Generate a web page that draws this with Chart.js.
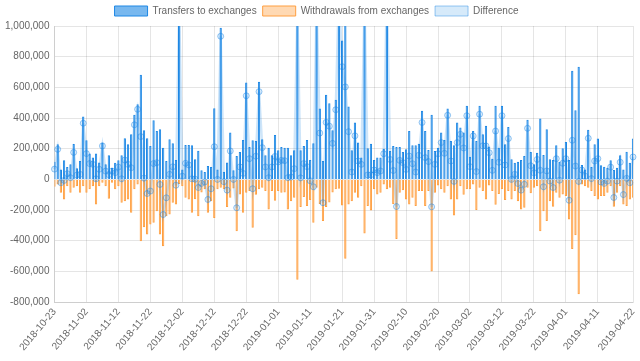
<!DOCTYPE html>
<html>
<head>
<meta charset="utf-8">
<script src="https://cdn.jsdelivr.net/npm/chart.js@4"></script>
<style>
  html, body { margin: 0; padding: 0; background: #fff; }
  #wrap { width: 640px; height: 361px; position: relative; }
</style>
</head>
<body>
<div id="wrap"><canvas id="grafico"></canvas></div>
<script>
// --- DADOS ---
const startDate = '2018-10-23';

// transfers into exchanges, one value per day
const transfers = [
  115000, 229000, 65000, 124000, 81000, 98000, 231000, 72000, 120000, 410000,
  255000, 168000, 142000, 168000, 110000, 240000, 98000, 157000, 76000, 109000,
  124000, 157000, 268000, 229000, 294000, 421000, 490000, 682000, 320000, 268000,
  218000, 386000, 316000, 327000, 207000, 120000, 262000, 235000, 126000, 1150000,
  65000, 225000, 225000, 222000, 131000, 187000, 59000, 48000, 87000, 81000,
  464000, 65000, 988000, 50000, 110000, 305000, 60000, 153000, 179000, 257000,
  632000, 211000, 255000, 251000, 637000, 262000, 157000, 207000, 157000, 290000,
  190000, 211000, 207000, 207000, 157000, 190000, 1750000, 190000, 218000, 257000,
  126000, 235000, 1200000, 462000, 120000, 552000, 497000, 320000, 519000, 1300000,
  905000, 1120000, 475000, 190000, 371000, 240000, 142000, 1500000, 203000, 233000,
  126000, 142000, 142000, 200000, 1300000, 185000, 218000, 211000, 211000, 179000,
  196000, 316000, 222000, 222000, 233000, 447000, 316000, 192000, 421000, 185000,
  207000, 305000, 257000, 462000, 251000, 222000, 371000, 338000, 305000, 480000,
  148000, 316000, 251000, 480000, 294000, 349000, 214000, 135000, 480000, 207000,
  480000, 229000, 342000, 131000, 109000, 115000, 126000, 153000, 388000, 179000,
  98000, 174000, 397000, 159000, 327000, 131000, 126000, 222000, 115000, 203000,
  244000, 126000, 708000, 451000, 735000, 94000, 65000, 323000, 81000, 229000,
  266000, 92000, 83000, 76000, 124000, 61000, 76000, 157000, 65000, 181000,
  109000, 266000
];

// withdrawals from exchanges (negative), one value per day
const withdrawals = [
  -48000, -33000, -87000, -131000, -44000, -87000, -55000, -44000, -87000, -44000,
  -87000, -65000, -44000, -164000, -44000, -22000, -44000, -126000, -22000, -65000,
  -44000, -153000, -142000, -131000, -218000, -65000, -33000, -403000, -312000, -360000,
  -294000, -283000, -207000, -360000, -436000, -240000, -229000, -153000, -164000, -30000,
  -44000, -120000, -131000, -218000, -130000, -240000, -85000, -65000, -218000, -142000,
  -251000, -65000, -55000, -65000, -180000, -120000, -60000, -338000, -98000, -218000,
  -87000, -76000, -316000, -100000, -65000, -55000, -76000, -196000, -76000, -140000,
  -76000, -87000, -85000, -196000, -142000, -120000, -654000, -180000, -115000, -174000,
  -135000, -283000, -55000, -160000, -272000, -180000, -150000, -85000, -65000, -61000,
  -170000, -517000, -164000, -142000, -87000, -120000, -44000, -353000, -174000, -203000,
  -65000, -98000, -87000, -33000, -65000, -55000, -160000, -388000, -87000, -70000,
  -131000, -164000, -120000, -174000, -76000, -76000, -174000, -76000, -600000, -87000,
  -40000, -65000, -87000, -44000, -131000, -235000, -131000, -44000, -100000, -65000,
  -65000, -33000, -200000, -55000, -75000, -131000, -40000, -76000, -165000, -95000,
  -65000, -135000, -76000, -131000, -76000, -142000, -196000, -185000, -55000, -90000,
  -55000, -44000, -338000, -207000, -272000, -142000, -179000, -87000, -120000, -98000,
  -109000, -262000, -453000, -364000, -748000, -33000, -44000, -55000, -76000, -109000,
  -131000, -109000, -109000, -87000, -44000, -179000, -87000, -45000, -164000, -174000,
  -131000, -120000
];

const yMin = -800000;
const yMax = 1000000;
const yStep = 200000;
const labelEvery = 10;

// --- CATEGORIAS (um dia por barra) ---
function gerarDatas(inicio, n) {
  const out = [];
  const d = new Date(inicio + 'T00:00:00Z');
  for (let i = 0; i < n; i++) {
    out.push(d.toISOString().slice(0, 10));
    d.setUTCDate(d.getUTCDate() + 1);
  }
  return out;
}
const days = gerarDatas(startDate, transfers.length);

// difference = transfers + withdrawals (withdrawals are negative)
const difference = transfers.map((t, i) => t + withdrawals[i]);

// cores: barras finas quase sólidas, caixas da legenda mais claras
const azul = 'rgb(30,136,229)';
const laranja = 'rgb(255,159,64)';
const legendaFundo = ['rgba(30,136,229,0.6)', 'rgba(255,159,64,0.4)', 'rgba(30,136,229,0.18)'];
const legendaBorda = [azul, laranja, 'rgba(30,136,229,0.45)'];

Chart.defaults.font.size = 10;
Chart.defaults.color = '#666';

new Chart(document.getElementById('grafico'), {
  type: 'bar',
  data: {
    labels: days,
    datasets: [
      {
        label: 'Transfers to exchanges',
        data: transfers,
        backgroundColor: 'rgba(30,136,229,0.9)',
        borderColor: azul,
        borderWidth: 1,
        order: 1
      },
      {
        label: 'Withdrawals from exchanges',
        data: withdrawals,
        backgroundColor: 'rgba(255,159,64,0.85)',
        borderColor: laranja,
        borderWidth: 1,
        order: 1
      },
      {
        type: 'line',
        label: 'Difference',
        data: difference,
        backgroundColor: 'rgba(30,136,229,0.18)',
        borderColor: 'rgba(30,136,229,0.22)',
        borderWidth: 2.5,
        pointRadius: 3,
        pointBorderWidth: 1,
        pointBorderColor: 'rgba(30,136,229,0.45)',
        pointBackgroundColor: 'rgba(30,136,229,0.15)',
        fill: false,
        tension: 0,
        order: 0
      }
    ]
  },
  options: {
    responsive: true,
    maintainAspectRatio: false,
    animation: false,
    layout: { padding: { right: 7, bottom: 4 } },
    plugins: {
      legend: {
        labels: {
          padding: 6,
          boxWidth: 33,
          boxHeight: 10,
          sort: (a, b) => a.datasetIndex - b.datasetIndex,
          generateLabels: chart => {
            const itens = Chart.defaults.plugins.legend.labels.generateLabels(chart);
            itens.forEach(it => {
              it.fillStyle = legendaFundo[it.datasetIndex];
              it.strokeStyle = legendaBorda[it.datasetIndex];
              it.lineWidth = 1;
            });
            return itens;
          }
        }
      },
      tooltip: { enabled: false }
    },
    scales: {
      x: {
        stacked: true,
        offset: false,
        grid: { offset: false, drawTicks: false },
        afterBuildTicks: axis => {
          const last = days.length - 1;
          axis.ticks = axis.ticks.filter(t =>
            (t.value % labelEvery === 0 && last - t.value >= labelEvery) || t.value === last);
        },
        // os rótulos girados terminam no tick, não precisam de espaço extra à direita
        afterFit: axis => { axis.paddingRight = 0; },
        ticks: { autoSkip: false, minRotation: 50, maxRotation: 50, padding: 4 }
      },
      y: {
        stacked: true,
        min: yMin,
        max: yMax,
        grid: { drawTicks: false },
        ticks: { stepSize: yStep, padding: 5 }
      }
    }
  }
});
</script>
</body>
</html>
